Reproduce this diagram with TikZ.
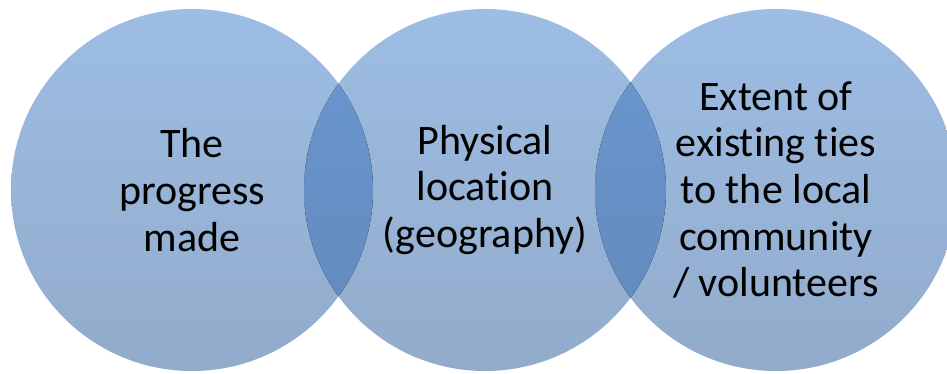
\documentclass[tikz,border=0pt]{standalone}
\usepackage{fontspec}
\setmainfont{Carlito}[Ligatures=NoCommon]
\usetikzlibrary{positioning}

\definecolor{ringtop}{RGB}{157,189,228}
\definecolor{ringbot}{RGB}{146,171,203}
\definecolor{lenstop}{RGB}{106,153,209}
\definecolor{lensbot}{RGB}{98,136,186}

\tikzset{
  ring/.style={circle, minimum size=271.5pt, inner sep=0pt, top color=ringtop, bottom color=ringbot,
    align=center, font=\fontsize{31.5}{35}\selectfont},
  lens/.style={top color=lenstop, bottom color=lensbot},
}

\begin{document}
\begin{tikzpicture}[x=0.75pt,y=-0.75pt]
  \clip (0,0) rectangle (947,374);
  \node[ring] (progress) at (192,190) {The\\progress\\made};
  \node[ring] (location) at (485,190) {Physical\\location\\(geography)};
  \node[ring] (ties) at (776,190) {Extent of\\existing ties\\to the local\\community\\/ volunteers};
  % overlaps
  \begin{scope}
    \clip (progress.center) circle[radius=135.75pt];
    \fill[lens] (location.center) circle[radius=135.75pt];
  \end{scope}
  \begin{scope}
    \clip (location.center) circle[radius=135.75pt];
    \fill[lens] (ties.center) circle[radius=135.75pt];
  \end{scope}
\end{tikzpicture}
\end{document}
